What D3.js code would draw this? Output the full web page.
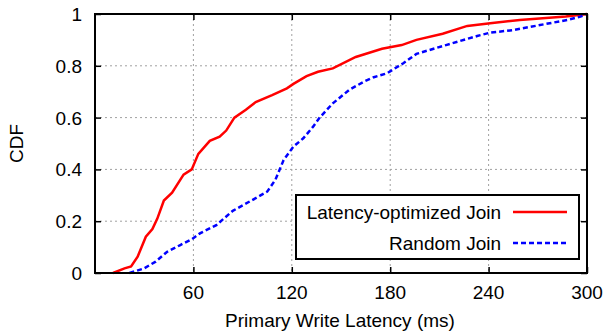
<!DOCTYPE html>
<html lang="en">
  <head>
    <meta charset="utf-8">
    <title>CDF of primary write latency</title>
    <script src="https://d3js.org/d3.v7.js"></script>
    <style>
      body { margin: 0; background: white; }
      text { font-family: "Liberation Sans", Arial, sans-serif; font-size: 19px; fill: black; }
    </style>
  </head>
  <body>
    <script type="text/javascript">
      // data: [latency ms, CDF]
      const optimizedJoin = [[11,0],[18,0.018],[22,0.025],[26,0.063],[31,0.14],[35,0.17],[38,0.21],[42,0.28],
        [47,0.31],[54,0.38],[59,0.40],[63,0.46],[70,0.51],[76,0.526],[80,0.55],[85,0.60],[92,0.63],[98,0.66],
        [108,0.687],[117,0.713],[121,0.73],[129,0.76],[136,0.777],[145,0.79],[159,0.834],[175,0.866],[187,0.88],
        [196,0.90],[212,0.924],[227,0.954],[241,0.964],[259,0.977],[287,0.99],[300,1]];
      const randomJoin = [[21,0],[30,0.018],[37,0.044],[44,0.082],[52,0.108],[59,0.13],[64,0.153],[74,0.185],
        [84,0.24],[94,0.275],[105,0.314],[110,0.36],[115,0.436],[121,0.488],[127,0.52],[133,0.565],[137,0.60],
        [145,0.655],[155,0.707],[164,0.739],[170,0.756],[178,0.771],[188,0.81],[196,0.846],[206,0.865],[214,0.88],
        [233,0.915],[241,0.928],[255,0.938],[288,0.977],[296,0.99],[300,1]];
      const xTicks = [60, 120, 180, 240, 300];
      const yTicks = [0, 0.2, 0.4, 0.6, 0.8, 1];
      const seriesNames = ["Latency-optimized Join", "Random Join"];

      const w = 603, h = 333;
      const plotLeft = 95, plotRight = 587, plotTop = 14, plotBottom = 273;

      const xScale = d3.scaleLinear().domain([0, 300]).range([plotLeft, plotRight]);
      const yScale = d3.scaleLinear().domain([0, 1]).range([plotBottom, plotTop]);

      const svg = d3.select("body").append("svg")
        .attr("width", w)
        .attr("height", h);

      // grid
      svg.append("g").selectAll("line")
        .data(xTicks.filter(d => d < 300))
        .enter().append("line")
        .attr("x1", d => xScale(d)).attr("x2", d => xScale(d))
        .attr("y1", plotTop).attr("y2", plotBottom)
        .attr("stroke", "#a0a0a0").attr("stroke-width", 1).attr("stroke-dasharray", "2,3");
      svg.append("g").selectAll("line")
        .data(yTicks.filter(d => d > 0 && d < 1))
        .enter().append("line")
        .attr("x1", plotLeft).attr("x2", plotRight)
        .attr("y1", d => yScale(d)).attr("y2", d => yScale(d))
        .attr("stroke", "#a0a0a0").attr("stroke-width", 1).attr("stroke-dasharray", "2,3");

      // axes with inward, mirrored ticks
      svg.append("g").attr("transform", `translate(0,${plotBottom})`)
        .call(d3.axisTop(xScale).tickValues(xTicks).tickSize(6).tickFormat(""))
        .call(g => g.select(".domain").remove());
      svg.append("g").attr("transform", `translate(0,${plotTop})`)
        .call(d3.axisBottom(xScale).tickValues(xTicks).tickSize(6).tickFormat(""))
        .call(g => g.select(".domain").remove());
      svg.append("g").attr("transform", `translate(${plotLeft},0)`)
        .call(d3.axisRight(yScale).tickValues(yTicks).tickSize(6).tickFormat(""))
        .call(g => g.select(".domain").remove());
      svg.append("g").attr("transform", `translate(${plotRight},0)`)
        .call(d3.axisLeft(yScale).tickValues(yTicks).tickSize(6).tickFormat(""))
        .call(g => g.select(".domain").remove());
      svg.selectAll(".tick line").attr("stroke", "black").attr("stroke-width", 1.5);

      // tick labels
      svg.append("g").selectAll("text")
        .data(xTicks).enter().append("text")
        .attr("x", d => xScale(d)).attr("y", 299)
        .attr("text-anchor", "middle")
        .text(d => d);
      svg.append("g").selectAll("text")
        .data(yTicks).enter().append("text")
        .attr("x", 82).attr("y", d => yScale(d) + 7)
        .attr("text-anchor", "end")
        .text(d => d);

      // curves
      const line = d3.line().x(d => xScale(d[0])).y(d => yScale(d[1]));
      svg.append("path").datum(optimizedJoin)
        .attr("d", line).attr("fill", "none")
        .attr("stroke", "#ff0000").attr("stroke-width", 2.5);
      svg.append("path").datum(randomJoin)
        .attr("d", line).attr("fill", "none")
        .attr("stroke", "#0000ff").attr("stroke-width", 2.5).attr("stroke-dasharray", "5,3");

      // frame
      svg.append("rect")
        .attr("x", plotLeft).attr("y", plotTop)
        .attr("width", plotRight - plotLeft).attr("height", plotBottom - plotTop)
        .attr("fill", "none").attr("stroke", "black").attr("stroke-width", 2);

      // axis labels
      svg.append("text")
        .attr("x", (plotLeft + plotRight) / 2 - 1).attr("y", 327)
        .attr("text-anchor", "middle")
        .text("Primary Write Latency (ms)");
      svg.append("text")
        .attr("transform", `translate(22.5, ${(plotTop + plotBottom) / 2}) rotate(-90)`)
        .attr("text-anchor", "middle")
        .text("CDF");

      // legend
      const legend = svg.append("g");
      legend.append("rect")
        .attr("x", 296).attr("y", 195).attr("width", 283).attr("height", 64)
        .attr("fill", "white").attr("stroke", "black").attr("stroke-width", 2);
      const rows = [
        {name: seriesNames[0], color: "#ff0000", dash: null, y: 212},
        {name: seriesNames[1], color: "#0000ff", dash: "5,3", y: 243}
      ];
      rows.forEach(r => {
        legend.append("text")
          .attr("x", 501).attr("y", r.y + 7)
          .attr("text-anchor", "end")
          .text(r.name);
        legend.append("line")
          .attr("x1", 513).attr("x2", 567)
          .attr("y1", r.y).attr("y2", r.y)
          .attr("stroke", r.color).attr("stroke-width", 2.5)
          .attr("stroke-dasharray", r.dash);
      });
    </script>
  </body>
</html>
